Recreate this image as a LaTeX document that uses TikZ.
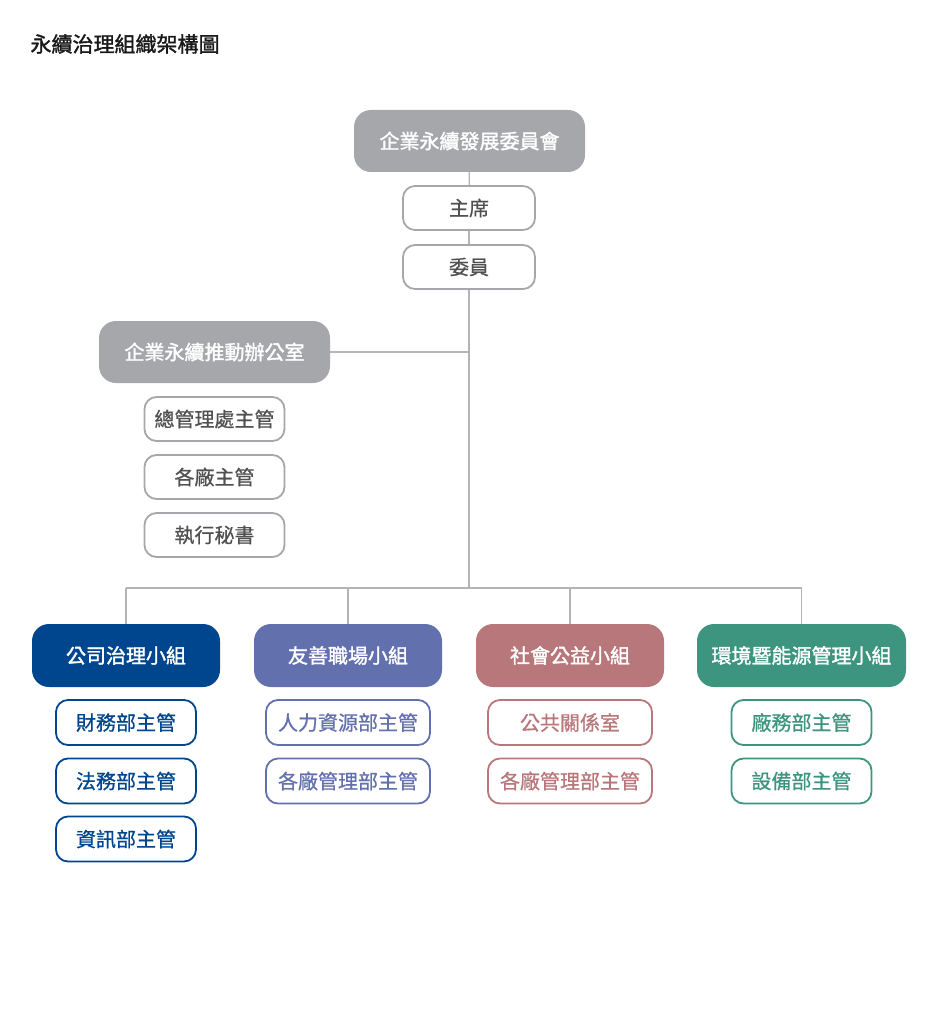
\documentclass[tikz,border=0pt]{standalone}
\usepackage{fontspec}
\setmainfont{Noto Sans CJK TC}
\newfontfamily\memberfont[FakeBold=0.7]{Noto Sans CJK TC}
\newfontfamily\headfont[FakeBold=1.6]{Noto Sans CJK TC}
\usepackage{tikz}
\usetikzlibrary{positioning}

\definecolor{linegray}{HTML}{B4B4B4}
\definecolor{headgray}{HTML}{A5A7AA}
\definecolor{textgray}{HTML}{505050}
\definecolor{govblue}{HTML}{00468E}
\definecolor{workviolet}{HTML}{6370AE}
\definecolor{socrose}{HTML}{B8777A}
\definecolor{envgreen}{HTML}{3D9580}

\tikzset{
  headbox/.style={rounded corners=17pt, fill=#1, draw=none, text=white,
    inner sep=0pt, minimum height=62pt, font=\fontsize{20}{24}\headfont},
  memberbox/.style={rounded corners=12pt, fill=white, draw=#1, line width=1.8pt,
    inner sep=0pt, minimum height=44pt, text=#1, font=\fontsize{20}{24}\memberfont},
  link/.style={draw=linegray, line width=1.3pt}
}

\begin{document}
\begin{tikzpicture}[x=1pt, y=-1pt]
    \useasboundingbox (0,0) rectangle (938,1024);
    % Title
    \node[anchor=west, font=\fontsize{21}{25}\headfont, text=black!90] (title) at (27,44) {永續治理組織架構圖};
    % Committee
    \node[headbox=headgray, minimum width=231pt] (committee) at (469.5,141) {企業永續發展委員會};
    \node[memberbox=headgray, text=textgray, minimum width=132pt] (chair) at (469,208) {主席};
    \node[memberbox=headgray, text=textgray, minimum width=132pt] (members) at (469,267) {委員};
    % Office
    \node[headbox=headgray, minimum width=231pt] (office) at (214.5,352) {企業永續推動辦公室};
    \node[memberbox=headgray, text=textgray, minimum width=140pt] (hq) at (214.5,419) {總管理處主管};
    \node[memberbox=headgray, text=textgray, minimum width=140pt] (plants) at (214.5,477) {各廠主管};
    \node[memberbox=headgray, text=textgray, minimum width=140pt] (secretary) at (214.5,535) {執行秘書};
    % Working groups
    \node[headbox=govblue, minimum width=188pt, minimum height=63pt] (gov) at (126,655.5) {公司治理小組};
    \node[headbox=workviolet, minimum width=188pt, minimum height=63pt] (work) at (348,655.5) {友善職場小組};
    \node[headbox=socrose, minimum width=188pt, minimum height=63pt] (soc) at (570,655.5) {社會公益小組};
    \node[headbox=envgreen, minimum width=209pt, minimum height=63pt] (env) at (801.5,655.5) {環境暨能源管理小組};
    % Group members
    \node[memberbox=govblue, minimum width=140pt, minimum height=45pt] (finance) at (126,722.5) {財務部主管};
    \node[memberbox=govblue, minimum width=140pt, minimum height=45pt] (legal) at (126,781) {法務部主管};
    \node[memberbox=govblue, minimum width=140pt, minimum height=45pt] (it) at (126,839) {資訊部主管};
    \node[memberbox=workviolet, minimum width=164pt, minimum height=45pt] (hr) at (348,722.5) {人力資源部主管};
    \node[memberbox=workviolet, minimum width=164pt, minimum height=45pt] (plantmgr) at (348,781) {各廠管理部主管};
    \node[memberbox=socrose, minimum width=164pt, minimum height=45pt] (pr) at (570,722.5) {公共關係室};
    \node[memberbox=socrose, minimum width=164pt, minimum height=45pt] (plantadm) at (570,781) {各廠管理部主管};
    \node[memberbox=envgreen, minimum width=140pt, minimum height=45pt] (factory) at (801.5,722.5) {廠務部主管};
    \node[memberbox=envgreen, minimum width=140pt, minimum height=45pt] (equip) at (801.5,781) {設備部主管};
    % Connectors
    \coordinate (hub) at (469,588);
    \draw[link] (committee) -- (chair);
    \draw[link] (chair) -- (members);
    \draw[link] (members) -- (hub);
    \draw[link] (office.east) -- (members.south |- office.east);
    \draw[link] (gov.north |- hub) -- (env.north |- hub);
    \foreach \g in {gov, work, soc, env}
        \draw[link] (\g.north |- hub) -- (\g.north);
\end{tikzpicture}
\end{document}
